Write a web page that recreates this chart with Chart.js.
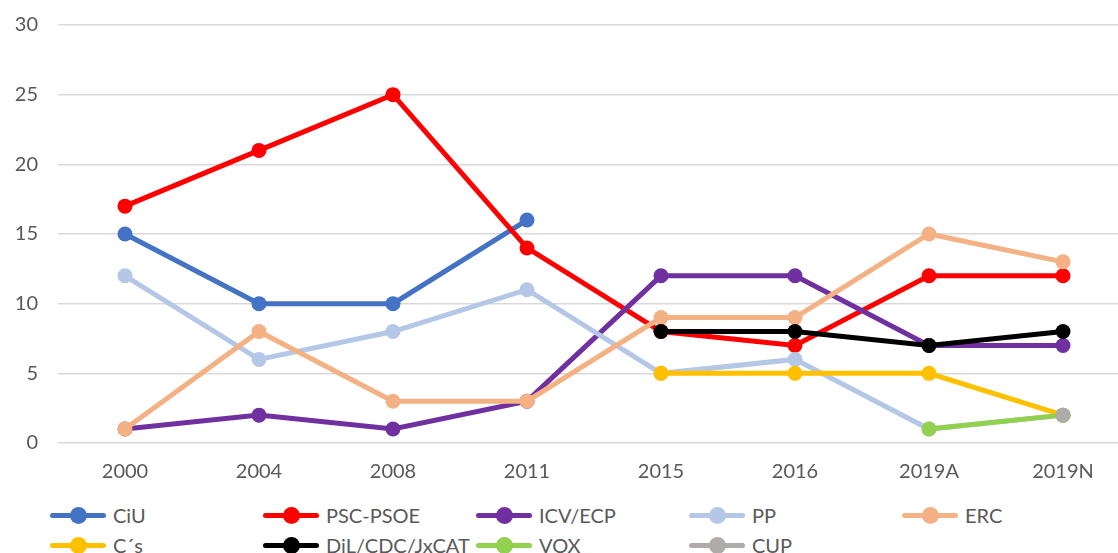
<!DOCTYPE html>
<html>
<head>
<meta charset="utf-8">
<script src="https://cdn.jsdelivr.net/npm/chart.js@4.4.0/dist/chart.umd.min.js"></script>
<style>
  html, body { margin: 0; padding: 0; background: #fff; overflow: hidden; }
  #wrap { position: relative; width: 1118px; height: 553px; overflow: hidden; }
  #chartBox { position: absolute; left: 0; top: -7px; width: 1130px; height: 502px; }
  #legend { position: absolute; left: 50px; top: 500px; width: 1070px;
    display: grid; grid-template-columns: repeat(5, 213px); grid-auto-rows: 30px;
    font-family: Lato, "Open Sans", sans-serif; font-size: 20px; color: #595959; }
  .item { display: flex; align-items: center; white-space: nowrap; }
  .mark { position: relative; width: 56px; height: 5px; border-radius: 2.5px; margin-right: 7px; }
  .mark i { position: absolute; left: 20px; top: -6px; width: 17px; height: 17px; border-radius: 50%; background: inherit; }
</style>
</head>
<body>
<div id="wrap">
  <div id="chartBox"><canvas id="seatsChart"></canvas></div>
  <div id="legend"></div>
</div>
<script>
// Seats per election
const years = ["2000", "2004", "2008", "2011", "2015", "2016", "2019A", "2019N"];
const yTicks = [0, 5, 10, 15, 20, 25, 30];

const ciu = [15, 10, 10, 16, null, null, null, null];
const psc = [17, 21, 25, 14, 8, 7, 12, 12];
const icv = [1, 2, 1, 3, 12, 12, 7, 7];
const pp = [12, 6, 8, 11, 5, 6, 1, 2];
const erc = [1, 8, 3, 3, 9, 9, 15, 13];
const cs = [null, null, null, null, 5, 5, 5, 2];
const dil = [null, null, null, null, 8, 8, 7, 8];
const vox = [null, null, null, null, null, null, 1, 2];
const cup = [null, null, null, null, null, null, null, 2];

const series = [
  { label: "CiU", data: ciu, color: "#4472C4" },
  { label: "PSC-PSOE", data: psc, color: "#FF0000" },
  { label: "ICV/ECP", data: icv, color: "#7030A0" },
  { label: "PP", data: pp, color: "#B4C7E7" },
  { label: "ERC", data: erc, color: "#F4B183" },
  { label: "C\u00B4s", data: cs, color: "#FFC000" },
  { label: "DiL/CDC/JxCAT", data: dil, color: "#000000" },
  { label: "VOX", data: vox, color: "#92D050" },
  { label: "CUP", data: cup, color: "#AFABAB" }
];

const ctx = document.getElementById("seatsChart").getContext("2d");
new Chart(ctx, {
  type: "line",
  data: {
    labels: years,
    datasets: series.map((s, i) => ({
      label: s.label,
      data: s.data,
      borderColor: s.color,
      backgroundColor: s.color,
      pointBackgroundColor: s.color,
      pointBorderColor: s.color,
      borderWidth: 5,
      pointRadius: 7.5,
      pointBorderWidth: 0,
      tension: 0,
      spanGaps: false,
      order: series.length - i // later series on top
    }))
  },
  options: {
    responsive: true,
    maintainAspectRatio: false,
    animation: false,
    layout: { autoPadding: false, padding: { top: 0, right: 0, bottom: 0, left: 0 } },
    plugins: {
      legend: { display: false },
      tooltip: { enabled: false }
    },
    scales: {
      x: {
        offset: true,
        grid: { display: false, drawTicks: false },
        border: { display: false },
        ticks: { color: "#595959", font: { family: "Lato", size: 20 }, padding: 17, maxRotation: 0 },
        afterFit: (scale) => { scale.height = 52; }
      },
      y: {
        min: 0,
        max: 30,
        afterBuildTicks: (scale) => { scale.ticks = yTicks.map(v => ({ value: v })); },
        grid: { color: "#d9d9d9", lineWidth: 1.5, drawTicks: false },
        border: { display: false },
        ticks: { color: "#595959", font: { family: "Lato", size: 20 }, padding: 20 },
        afterFit: (scale) => { scale.width = 58; }
      }
    }
  }
});

// legend laid out as a grid like the original
const legend = document.getElementById("legend");
series.forEach(s => {
  const item = document.createElement("div");
  item.className = "item";
  const mark = document.createElement("span");
  mark.className = "mark";
  mark.style.background = s.color;
  mark.appendChild(document.createElement("i"));
  item.appendChild(mark);
  item.appendChild(document.createTextNode(s.label));
  legend.appendChild(item);
});
</script>
</body>
</html>
